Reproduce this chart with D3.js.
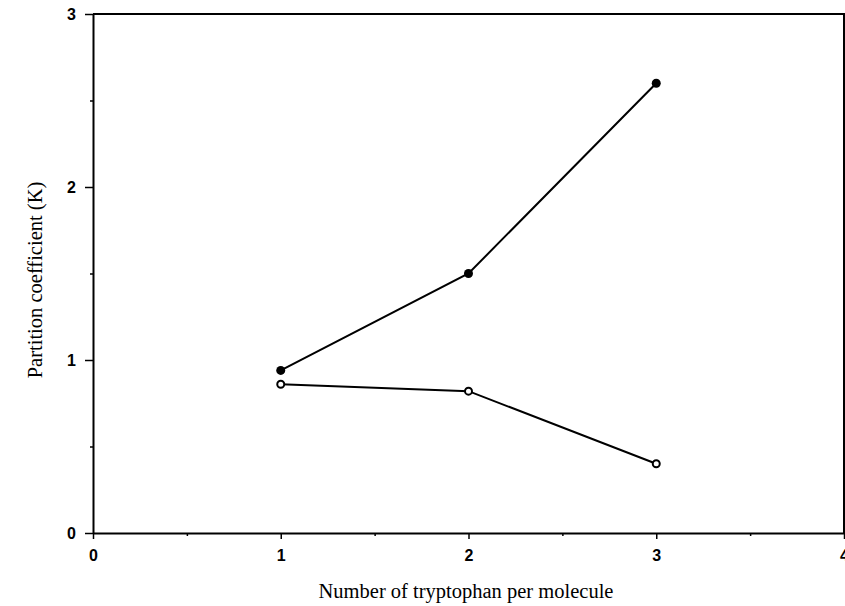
<!DOCTYPE html>
<html lang="en">
<head>
    <meta charset="UTF-8">
    <title>Partition coefficient vs tryptophan</title>
    <script src="https://d3js.org/d3.v7.min.js"></script>
    <style>
        body { margin: 0; background: white; }
        .tick text { font-family: "Liberation Sans", Arial, sans-serif; font-weight: bold; font-size: 16px; fill: black; }
        .title { font-family: "Liberation Serif", "Times New Roman", serif; font-size: 20.5px; fill: black; }
    </style>
</head>
<body>
    <div id="chart"></div>

    <script>
        // data
        const tryptophan = [1, 2, 3];
        const filledK = [0.94, 1.50, 2.60];
        const openK = [0.86, 0.82, 0.40];
        const xTicks = [0, 1, 2, 3, 4];
        const yTicks = [0, 1, 2, 3];
        const xMinor = [0.5, 1.5, 2.5, 3.5];
        const yMinor = [0.5, 1.5, 2.5];

        const margin = {top: 14, right: 1, bottom: 73, left: 93},
              width = 845 - margin.left - margin.right,
              height = 606 - margin.top - margin.bottom;

        const svg = d3.select("#chart")
                      .append("svg")
                      .attr("width", 845)
                      .attr("height", 606)
                      .append("g")
                      .attr("transform", `translate(${margin.left},${margin.top})`);

        const x = d3.scaleLinear().domain([0, 4]).range([0, width]);
        const y = d3.scaleLinear().domain([0, 3]).range([height, 0]);

        // frame (top and right sides)
        svg.append("path")
           .attr("d", `M0,0H${width}V${height}`)
           .attr("fill", "none")
           .attr("stroke", "black")
           .attr("stroke-width", 2);

        // minor ticks
        svg.append("g")
           .attr("transform", `translate(0,${height})`)
           .call(d3.axisBottom(x).tickValues(xMinor).tickSize(3).tickFormat(""))
           .call(g => g.select(".domain").remove())
           .selectAll("line").attr("stroke-width", 1.5);

        svg.append("g")
           .call(d3.axisLeft(y).tickValues(yMinor).tickSize(3).tickFormat(""))
           .call(g => g.select(".domain").remove())
           .selectAll("line").attr("stroke-width", 1.5);

        // main axes
        const xAxis = svg.append("g")
           .attr("transform", `translate(0,${height})`)
           .call(d3.axisBottom(x).tickValues(xTicks).tickSize(6).tickSizeOuter(0).tickPadding(11).tickFormat(d3.format("d")));
        xAxis.select(".domain").attr("stroke-width", 2);
        xAxis.selectAll("line").attr("stroke-width", 1.5);

        const yAxis = svg.append("g")
           .call(d3.axisLeft(y).tickValues(yTicks).tickSize(8).tickSizeOuter(0).tickPadding(9).tickFormat(d3.format("d")));
        yAxis.select(".domain").attr("stroke-width", 2);
        yAxis.selectAll("line").attr("stroke-width", 1.5);

        // axis titles
        svg.append("text")
           .attr("class", "title")
           .attr("x", 373)
           .attr("y", height + 65)
           .attr("text-anchor", "middle")
           .text("Number of tryptophan per molecule");

        svg.append("text")
           .attr("class", "title")
           .attr("transform", "rotate(-90)")
           .attr("x", -266)
           .attr("y", -51)
           .attr("text-anchor", "middle")
           .text("Partition coefficient (K)");

        const line = d3.line()
                       .x((d, i) => x(tryptophan[i]))
                       .y(d => y(d));

        // filled series
        svg.append("path")
           .datum(filledK)
           .attr("fill", "none")
           .attr("stroke", "black")
           .attr("stroke-width", 2)
           .attr("d", line);

        svg.selectAll(".filled")
           .data(filledK)
           .enter()
           .append("circle")
           .attr("cx", (d, i) => x(tryptophan[i]))
           .attr("cy", d => y(d))
           .attr("r", 4.5)
           .attr("fill", "black");

        // open series
        svg.append("path")
           .datum(openK)
           .attr("fill", "none")
           .attr("stroke", "black")
           .attr("stroke-width", 2)
           .attr("d", line);

        svg.selectAll(".open")
           .data(openK)
           .enter()
           .append("circle")
           .attr("cx", (d, i) => x(tryptophan[i]))
           .attr("cy", d => y(d))
           .attr("r", 3.5)
           .attr("fill", "white")
           .attr("stroke", "black")
           .attr("stroke-width", 2);
    </script>
</body>
</html>
